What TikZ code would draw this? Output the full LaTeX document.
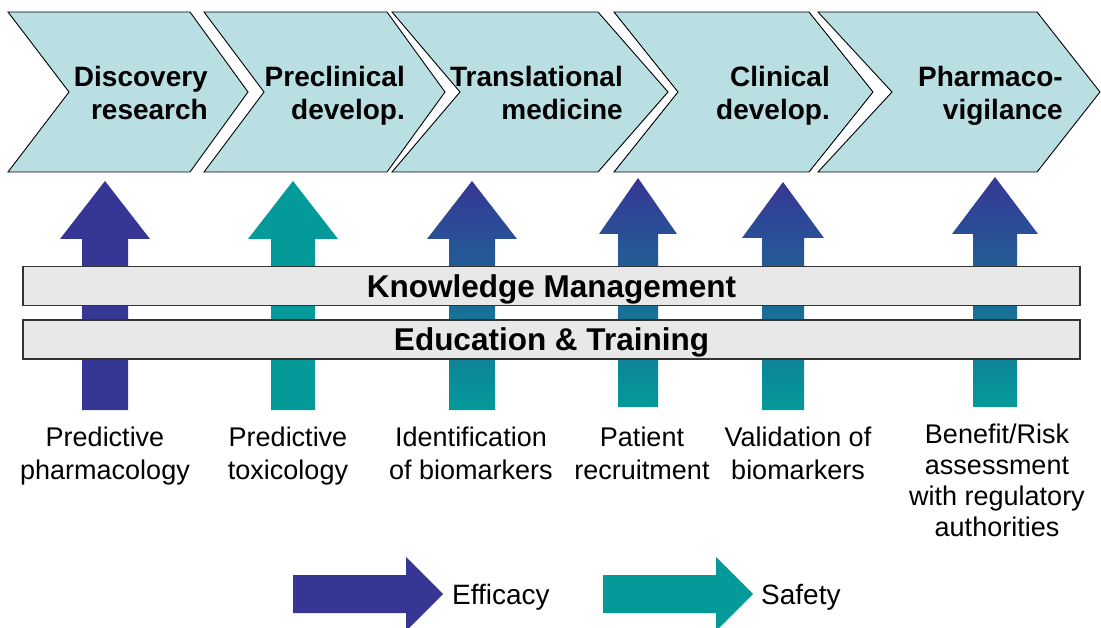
\documentclass[tikz,border=0pt]{standalone}
\usepackage{fontspec}
\setmainfont{Liberation Sans}
\definecolor{effblue}{HTML}{363795}
\definecolor{safteal}{HTML}{039A99}
\definecolor{chevfill}{HTML}{B9DFE3}
\definecolor{barfill}{HTML}{E8E8E8}
\newcommand\UpArr[7]{%
  \path[#1] (#2,#3) -- (#2+#6,#4) -- (#2+#7,#4) -- (#2+#7,#5) -- (#2-#7,#5) -- (#2-#7,#4) -- (#2-#6,#4) -- cycle;}
\begin{document}
\begin{tikzpicture}[x=1pt,y=-1pt,
  chev/.style={fill=chevfill, draw=black, line width=0.9pt, line join=miter},
  chevtext/.style={font=\fontsize{28}{33}\selectfont\bfseries, align=right, anchor=base east, inner sep=0pt},
  bar/.style={fill=barfill, draw=black!80, line width=1.4pt, minimum width=1057pt, minimum height=39pt, inner sep=0pt, text height=22.5pt, text depth=0pt, font=\fontsize{31.5}{36}\selectfont\bfseries},
  lbl/.style={font=\fontsize{27}{33}\selectfont, align=center, anchor=base, inner sep=0pt},
  lbltight/.style={font=\fontsize{27}{31}\selectfont, align=center, anchor=base, inner sep=0pt},
  legtext/.style={font=\fontsize{28}{33}\selectfont, anchor=base west, inner sep=0pt},
  effarrow/.style={fill=effblue},
  safarrow/.style={fill=safteal},
  mixarrow/.style={top color=effblue, bottom color=safteal, draw=none}]
\useasboundingbox (0,0) rectangle (1101,628);
% chevrons
\path[chev] (8,12) -- (190,12) -- (248,92) -- (190,172) -- (8,172) -- (69,92) -- cycle;
\path[chev] (204,12) -- (387,12) -- (445,92) -- (387,172) -- (204,172) -- (264,92) -- cycle;
\path[chev] (392,12) -- (598,12) -- (668,92) -- (598,172) -- (392,172) -- (460,92) -- cycle;
\path[chev] (614,12) -- (809,12) -- (873,92) -- (809,172) -- (614,172) -- (678,92) -- cycle;
\path[chev] (818,12) -- (1037,12) -- (1100,92) -- (1037,172) -- (818,172) -- (892,92) -- cycle;
\node[chevtext] (c1) at (208,120) {Discovery\\research};
\node[chevtext] (c2) at (405,120) {Preclinical\\develop.};
\node[chevtext] (c3) at (623,120) {Translational\\medicine};
\node[chevtext] (c4) at (830,120) {Clinical\\develop.};
\node[chevtext] (c5) at (1063,120) {Pharmaco-\\vigilance};
% up arrows
\UpArr{effarrow}{105}{181}{239}{410}{45}{23}
\UpArr{safarrow}{293}{181}{239}{410}{45}{22}
\UpArr{mixarrow}{472}{181}{239}{410}{45}{23}
\UpArr{mixarrow}{638}{178}{234}{407}{39}{20}
\UpArr{mixarrow}{783}{182}{238}{410}{41}{21}
\UpArr{mixarrow}{995}{177}{234}{407}{43}{22}
% bars
\node[bar] (km) at (551.5,286) {Knowledge Management};
\node[bar] (et) at (551.5,339.5) {Education \& Training};
% labels
\node[lbl] (l1) at (105,479) {Predictive\\pharmacology};
\node[lbl] (l2) at (288,479) {Predictive\\toxicology};
\node[lbl] (l3) at (471,479) {Identification\\of biomarkers};
\node[lbl] (l4) at (642,479) {Patient\\recruitment};
\node[lbl] (l5) at (798,479) {Validation of\\biomarkers};
\node[lbltight] (l6) at (997,536) {Benefit/Risk\\assessment\\with regulatory\\authorities};
% legend
\path[effarrow] (293,575) -- (406,575) -- (406,557) -- (443,594) -- (406,631) -- (406,613) -- (293,613) -- cycle;
\path[safarrow] (603,575) -- (716,575) -- (716,557) -- (753,594) -- (716,631) -- (716,613) -- (603,613) -- cycle;
\node[legtext] (eff) at (452,604) {Efficacy};
\node[legtext] (saf) at (761,604) {Safety};
\end{tikzpicture}
\end{document}
